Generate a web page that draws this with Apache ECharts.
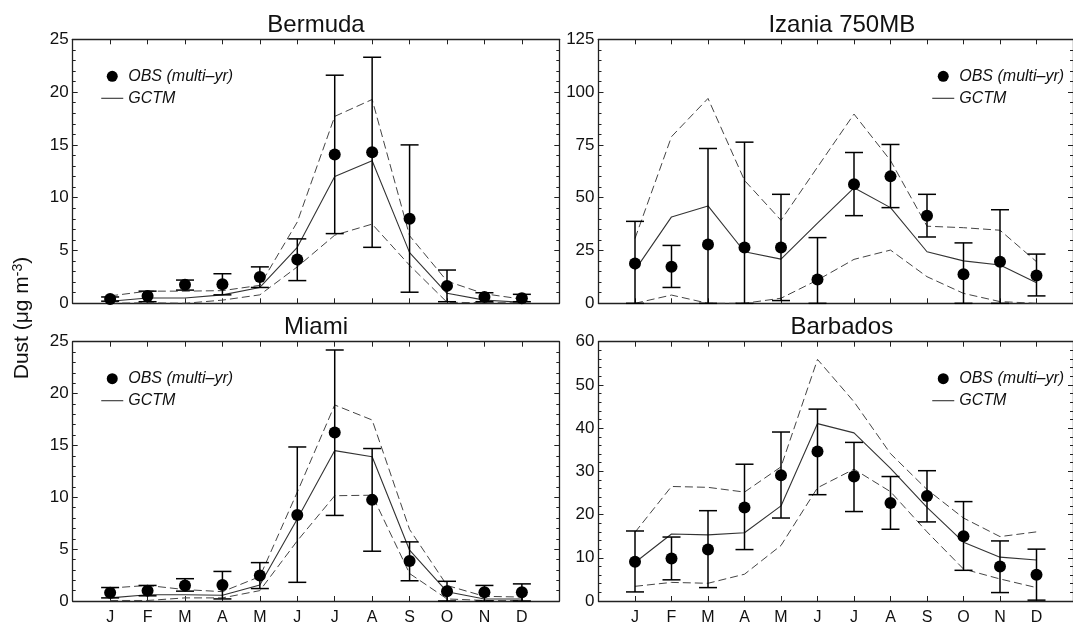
<!DOCTYPE html>
<html>
<head>
<meta charset="utf-8">
<script src="https://cdn.jsdelivr.net/npm/echarts@6/dist/echarts.min.js"></script>
<style>
  html, body { margin: 0; padding: 0; background: #fff; }
  #chart { width: 1073px; height: 626px; }
</style>
</head>
<body>
<div id="chart"></div>
<script>
// months sit at 1..12 on a 0..13 value axis
var months = [1, 2, 3, 4, 5, 6, 7, 8, 9, 10, 11, 12]
var monthLetters = ['J', 'F', 'M', 'A', 'M', 'J', 'J', 'A', 'S', 'O', 'N', 'D']

// Bermuda
var bermudaObs = [0.4, 0.7, 1.75, 1.8, 2.5, 4.15, 14.1, 14.3, 8.0, 1.65, 0.6, 0.47]
var bermudaObsHi = [0.6, 1.15, 2.2, 2.8, 3.45, 6.1, 21.6, 23.3, 15.0, 3.15, 1.0, 0.85]
var bermudaObsLo = [0.2, 0.15, 1.25, 0.8, 1.5, 2.15, 6.6, 5.3, 1.05, 0.15, 0.15, 0.15]
var bermudaModel = [0.2, 0.5, 0.5, 0.8, 1.5, 5.3, 12.0, 13.5, 4.8, 0.95, 0.3, 0.1]
var bermudaModelHi = [0.7, 1.15, 1.15, 1.2, 1.7, 7.7, 17.7, 19.3, 6.4, 2.1, 0.9, 0.4]
var bermudaModelLo = [0, 0.05, 0, 0.3, 0.8, 3.45, 6.45, 7.5, 3.6, 0.1, 0.05, 0.05]

// Izania 750MB
var izaniaObs = [18.9, 17.3, 27.8, 26.4, 26.4, 11.3, 56.4, 60.1, 41.5, 13.8, 19.7, 13.2]
var izaniaObsHi = [38.8, 27.4, 73.3, 76.3, 51.6, 31.1, 71.4, 75.2, 51.6, 28.6, 44.3, 23.3]
var izaniaObsLo = [0, 7.5, 0, 0, 1.3, 0, 41.5, 45.3, 31.4, 0, 0, 3.5]
var izaniaModel = [15.7, 40.9, 46.1, 24.4, 20.9, 38, 54.7, 45.3, 24.4, 20.1, 18.1, 9.7]
var izaniaModelHi = [30.7, 78.9, 97, 58.2, 39.3, 64.5, 89.6, 67.6, 36.5, 35.8, 34.6, 19.7]
var izaniaModelLo = [0, 3.9, 0, 0, 2.4, 11, 20.8, 25.2, 12.6, 4.7, 0.8, 0]

// Miami
var miamiObs = [0.8, 1.0, 1.5, 1.55, 2.45, 8.3, 16.25, 9.75, 3.85, 0.95, 0.85, 0.85]
var miamiObsHi = [1.3, 1.5, 2.15, 2.85, 3.7, 14.85, 24.2, 14.7, 5.7, 1.9, 1.5, 1.65]
var miamiObsLo = [0.3, 0.5, 0.95, 0.2, 1.2, 1.8, 8.25, 4.8, 1.95, 0, 0, 0]
var miamiModel = [0.3, 0.6, 0.6, 0.55, 1.55, 7.9, 14.5, 13.9, 4.9, 0.9, 0.2, 0.2]
var miamiModelHi = [1.25, 1.5, 1.1, 0.9, 2.35, 10.5, 18.9, 17.45, 6.9, 1.5, 0.45, 0.38]
var miamiModelLo = [0.05, 0.05, 0.3, 0.3, 1.0, 5.8, 10.15, 10.2, 2.65, 0.2, 0.05, 0.05]

// Barbados
var barbadosObs = [9.1, 9.85, 11.9, 21.65, 29.1, 34.6, 28.8, 22.7, 24.3, 15.0, 8.0, 6.1]
var barbadosObsHi = [16.2, 14.8, 20.9, 31.65, 39.1, 44.4, 36.7, 28.8, 30.15, 23.0, 13.9, 12.0]
var barbadosObsLo = [2.1, 4.9, 3.1, 11.9, 19.2, 24.6, 20.7, 16.6, 18.3, 7.1, 1.95, 0.2]
var barbadosModel = [8.9, 15.5, 15.3, 15.8, 22.0, 41.05, 38.9, 30.7, 21.65, 13.6, 10.15, 9.5]
var barbadosModelHi = [15.9, 26.5, 26.3, 25.2, 31.05, 55.9, 46.1, 34.1, 25.8, 19.2, 14.9, 16.0]
var barbadosModelLo = [3.4, 4.3, 4.1, 6.2, 12.85, 26.2, 30.5, 25.3, 16.0, 7.4, 5.1, 3.1]

var FONT = '"Liberation Sans", Arial, Helvetica, sans-serif'
var OBS_NAME = 'OBS (multi\u2013yr)'

var panels = [
  { title: 'Bermuda', left: 72.7, top: 39.3, ymax: 25, step: 5, xLabels: false,
    obs: bermudaObs, hi: bermudaObsHi, lo: bermudaObsLo,
    model: bermudaModel, mHi: bermudaModelHi, mLo: bermudaModelLo },
  { title: 'Izania 750MB', left: 598.5, top: 39.3, ymax: 125, step: 25, xLabels: false,
    obs: izaniaObs, hi: izaniaObsHi, lo: izaniaObsLo,
    model: izaniaModel, mHi: izaniaModelHi, mLo: izaniaModelLo },
  { title: 'Miami', left: 72.7, top: 341.7, ymax: 25, step: 5, xLabels: true,
    obs: miamiObs, hi: miamiObsHi, lo: miamiObsLo,
    model: miamiModel, mHi: miamiModelHi, mLo: miamiModelLo },
  { title: 'Barbados', left: 598.5, top: 341.7, ymax: 60, step: 10, xLabels: true,
    obs: barbadosObs, hi: barbadosObsHi, lo: barbadosObsLo,
    model: barbadosModel, mHi: barbadosModelHi, mLo: barbadosModelLo }
]
var PW = 486.6, PH = 264

function pairs(vals) {
  return months.map(function (m, i) { return [m, vals[i]] })
}

function renderErr(params, api) {
  var x = api.value(0)
  var lo = api.coord([x, api.value(1)])
  var hi = api.coord([x, api.value(2)])
  var w = 9
  var st = { stroke: '#000', lineWidth: 1.5 }
  return {
    type: 'group',
    children: [
      { type: 'line', shape: { x1: lo[0], y1: lo[1], x2: hi[0], y2: hi[1] }, style: st },
      { type: 'line', shape: { x1: lo[0] - w, y1: lo[1], x2: lo[0] + w, y2: lo[1] }, style: st },
      { type: 'line', shape: { x1: hi[0] - w, y1: hi[1], x2: hi[0] + w, y2: hi[1] }, style: st }
    ]
  }
}

var grid = [], xAxis = [], yAxis = [], series = [], legend = [], graphic = []
var axisLine = { show: true, onZero: false, lineStyle: { color: '#222', width: 1.3 } }

panels.forEach(function (p, i) {
  grid.push({ left: p.left, top: p.top, width: PW, height: PH })

  ;['bottom', 'top'].forEach(function (pos) {
    xAxis.push({
      type: 'value', gridIndex: i, position: pos, min: 0, max: 13,
      axisLine: axisLine,
      axisTick: { inside: true, length: 5, customValues: months, lineStyle: { color: '#222' } },
      axisLabel: {
        show: pos === 'bottom' && p.xLabels, customValues: months, margin: 9,
        fontSize: 16, fontFamily: FONT, color: '#111',
        formatter: function (v) { return monthLetters[v - 1] || '' }
      },
      splitLine: { show: false }
    })
  })
  ;['left', 'right'].forEach(function (pos) {
    yAxis.push({
      type: 'value', gridIndex: i, position: pos, min: 0, max: p.ymax, interval: p.step,
      axisLine: axisLine,
      axisTick: { inside: true, length: 5, lineStyle: { color: '#222' } },
      minorTick: { show: true, splitNumber: 5, length: 3, lineStyle: { color: '#222' } },
      axisLabel: { show: pos === 'left', margin: 4, fontSize: 17, fontFamily: FONT, color: '#111' },
      splitLine: { show: false }
    })
  })

  var xi = 2 * i, yi = 2 * i
  series.push({
    name: 'mhi' + i, type: 'line', xAxisIndex: xi, yAxisIndex: yi, data: pairs(p.mHi),
    symbol: 'none', lineStyle: { color: '#444', width: 1, type: [8, 4] }, silent: true, z: 2
  })
  series.push({
    name: 'mlo' + i, type: 'line', xAxisIndex: xi, yAxisIndex: yi, data: pairs(p.mLo),
    symbol: 'none', lineStyle: { color: '#444', width: 1, type: [8, 4] }, silent: true, z: 2
  })
  series.push({
    name: 'GCTM', type: 'line', xAxisIndex: xi, yAxisIndex: yi, data: pairs(p.model),
    symbol: 'none', lineStyle: { color: '#333', width: 1.1 }, silent: true, z: 3
  })
  series.push({
    name: 'err' + i, type: 'custom', xAxisIndex: xi, yAxisIndex: yi,
    data: months.map(function (m, k) { return [m, p.lo[k], p.hi[k]] }),
    encode: { x: 0, y: [1, 2] }, renderItem: renderErr, silent: true, z: 4
  })
  series.push({
    name: OBS_NAME, type: 'scatter', xAxisIndex: xi, yAxisIndex: yi, data: pairs(p.obs),
    symbol: 'circle', symbolSize: 12, itemStyle: { color: '#000', opacity: 1 }, silent: true, z: 5
  })

  var legLeft = p.left < 300 ? 100.7 : 931.7
  legend.push({
    left: legLeft, top: p.top + 29, orient: 'vertical', padding: 0,
    itemWidth: 22, itemHeight: 11, itemGap: 6, selectedMode: false,
    data: [
      { name: OBS_NAME, icon: 'circle', itemStyle: { color: '#000', opacity: 1 } },
      { name: 'GCTM', itemStyle: { opacity: 0 }, lineStyle: { color: '#333', width: 1.1 } }
    ],
    textStyle: { fontSize: 16, fontStyle: 'italic', fontFamily: FONT, color: '#111' }
  })

  graphic.push({
    type: 'text', x: p.left + PW / 2, y: p.top - 14,
    style: { text: p.title, font: '24px ' + FONT, fill: '#111', textAlign: 'center', textVerticalAlign: 'middle' }
  })
})

graphic.push({
  type: 'text', x: 22, y: 318, rotation: Math.PI / 2,
  style: {
    text: '{a|Dust (\u03bcg m}{s|-3}{a|)}',
    textAlign: 'center', textVerticalAlign: 'middle', fill: '#111',
    rich: {
      a: { fontSize: 21, fontFamily: FONT, color: '#111' },
      s: { fontSize: 14, fontFamily: FONT, color: '#111', verticalAlign: 'top', padding: [0, 0, 8, 0] }
    }
  }
})

var chart = echarts.init(document.getElementById('chart'), null, { renderer: 'canvas' })
chart.setOption({
  animation: false,
  backgroundColor: '#fff',
  grid: grid,
  xAxis: xAxis,
  yAxis: yAxis,
  legend: legend,
  graphic: graphic,
  series: series
})
</script>
</body>
</html>
